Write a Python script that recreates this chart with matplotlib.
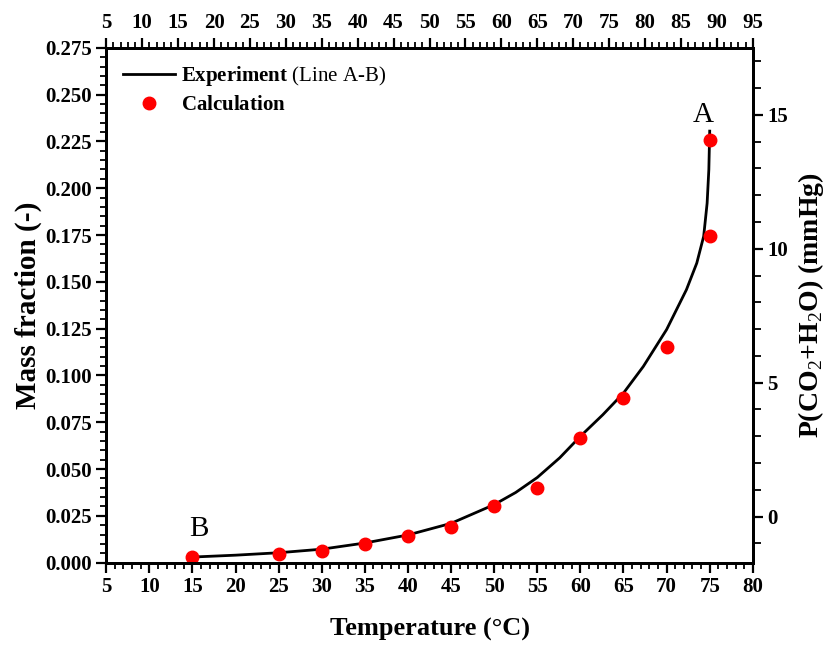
import matplotlib.pyplot as plt
from matplotlib.ticker import MultipleLocator

plt.rcParams['font.family'] = ['Liberation Serif', 'DejaVu Serif']
plt.rcParams['mathtext.fontset'] = 'custom'
plt.rcParams['mathtext.rm'] = 'Liberation Serif'
plt.rcParams['mathtext.bf'] = 'Liberation Serif:bold'

# experiment line A-B
exp_t = [15, 20, 25, 30, 35, 40, 45, 50, 52.5, 55, 57.6, 60, 62.6, 65, 67.3, 70, 72.3, 73.5,
         74.3, 74.7, 74.9, 75]
exp_y = [0.003, 0.004, 0.0053, 0.0072, 0.0105, 0.0148, 0.021, 0.031, 0.0375, 0.0455, 0.056,
         0.0675, 0.079, 0.0906, 0.1048, 0.1245, 0.1458, 0.160, 0.1743, 0.192, 0.210, 0.2305]

# calculation points
calc_t = [15, 25, 30, 35, 40, 45, 50, 55, 60, 65, 70, 75, 75]
calc_y = [0.0028, 0.0046, 0.0061, 0.0098, 0.0144, 0.0192, 0.0305, 0.0400, 0.0664, 0.0880,
          0.1150, 0.1747, 0.2255]

fig = plt.figure(figsize=(8.3, 6.46), dpi=100)
ax = fig.add_axes([0.128, 0.129, 0.779, 0.797])

ax.plot(exp_t, exp_y, color='black', lw=2, label=r'$\mathbf{Experiment}$ (Line A-B)')
ax.plot(calc_t, calc_y, 'o', color='red', ms=9, label=r'$\mathbf{Calculation}$')

ax.set_xlim(5, 80)
ax.set_ylim(0, 0.275)
ax.xaxis.set_major_locator(MultipleLocator(5))
ax.xaxis.set_minor_locator(MultipleLocator(1))
ax.yaxis.set_major_locator(MultipleLocator(0.025))
ax.yaxis.set_minor_locator(MultipleLocator(0.005))
ax.yaxis.set_major_formatter(plt.FuncFormatter(lambda v, p: f'{v:.3f}'))

ax.set_xlabel('Temperature (°C)', fontsize=19, fontweight='bold', labelpad=15)
ax.set_ylabel('Mass fraction (-)', fontsize=21, fontweight='bold', labelpad=2)

ax.text(74.3, 0.232, 'A', fontsize=21, ha='center', va='bottom')
ax.text(15.7, 0.011, 'B', fontsize=21, ha='center', va='bottom')

leg = ax.legend(loc='upper left', frameon=False, fontsize=15, handlelength=2.5,
                handletextpad=0.3, borderaxespad=0.4, labelspacing=0.35)

# top axis
ax_top = ax.twiny()
ax_top.set_xlim(5, 95)
ax_top.xaxis.set_major_locator(MultipleLocator(5))
ax_top.xaxis.set_minor_locator(MultipleLocator(1))

# right axis
ax_r = ax.twinx()
ax_r.set_ylim(-1.72, 17.5)
ax_r.yaxis.set_major_locator(MultipleLocator(5))
ax_r.yaxis.set_minor_locator(MultipleLocator(1))
ax_r.set_ylabel(r'P(CO$_\mathrm{2}$+H$_\mathrm{2}$O) (mmHg)', fontsize=20, fontweight='bold',
                labelpad=6)

for a in (ax, ax_top, ax_r):
    for s in a.spines.values():
        s.set_linewidth(2)
    a.tick_params(which='major', direction='out', length=7, width=1.6, labelsize=15)
    a.tick_params(which='minor', direction='out', length=4, width=1.3)
    for lab in a.get_xticklabels() + a.get_yticklabels():
        lab.set_fontweight('bold')
ax_r.tick_params(which='minor', length=6)

fig.savefig('out.png', dpi=100)
